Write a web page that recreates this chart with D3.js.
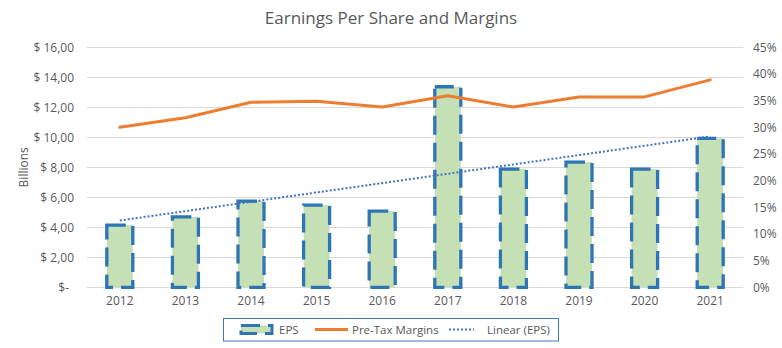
<!DOCTYPE html>
<html><head><meta charset="utf-8">
<script src="https://cdn.jsdelivr.net/npm/d3@7"></script>
<style>body{margin:0;background:#fff}svg{display:block}text{font-family:"Open Sans","Liberation Sans",Arial,sans-serif}</style>
</head><body><svg id="c" width="782" height="348"></svg>
<script>
const years = ["2012","2013","2014","2015","2016","2017","2018","2019","2020","2021"];
const eps = [4.15,4.70,5.75,5.48,5.08,13.37,7.88,8.35,7.88,9.93];
const margins = [30.0,31.8,34.7,34.9,33.8,35.9,33.8,35.7,35.7,38.9];
const leftTicks = [0,2,4,6,8,10,12,14,16];
const rightTicks = [0,5,10,15,20,25,30,35,40,45];
const title = "Earnings Per Share and Margins";

const svg = d3.select("#c");
const L = 87, R = 743, T = 47.3, B = 287.3;
const x = d3.scaleBand().domain(years).range([L,R]).paddingInner(0.6).paddingOuter(0.3);
const xc = d => x(d) + x.bandwidth()/2;
const xb = d3.scaleBand().domain(years).range([L,R]);
const xcen = d => xb(d) + xb.bandwidth()/2;
const yL = d3.scaleLinear().domain([0,16]).range([B,T]);
const yR = d3.scaleLinear().domain([0,45]).range([B,T]);
const txt = "#595959";

svg.append("text").attr("x",391).attr("y",24).attr("text-anchor","middle")
  .attr("font-size",17).attr("fill",txt).text(title);

// gridlines
svg.append("g").selectAll("line").data(leftTicks).join("line")
  .attr("x1",L).attr("x2",R).attr("y1",d=>Math.round(yL(d))+0.5).attr("y2",d=>Math.round(yL(d))+0.5)
  .attr("stroke","#d9d9d9").attr("stroke-width",1);

// left axis
const fmtL = d => d===0 ? "$-" : "$ " + d.toFixed(2).replace(".",",");
const gl = svg.append("g").attr("transform",`translate(${L},0)`)
  .call(d3.axisLeft(yL).tickValues(leftTicks).tickFormat(fmtL).tickSize(0).tickPadding(13));
gl.select(".domain").remove();
gl.selectAll("text").attr("font-size",12).attr("fill",txt).attr("font-family",'"Open Sans",sans-serif')
  .attr("dx",d=>d===0?-5:0);

// right axis
const gr = svg.append("g").attr("transform",`translate(${R},0)`)
  .call(d3.axisRight(yR).tickValues(rightTicks).tickFormat(d=>d+"%").tickSize(0).tickPadding(10));
gr.select(".domain").remove();
gr.selectAll("text").attr("font-size",12).attr("fill",txt).attr("font-family",'"Open Sans",sans-serif');

// x axis
const gx = svg.append("g").attr("transform",`translate(0,${B})`)
  .call(d3.axisBottom(xb).tickSize(0).tickPadding(9));
gx.select(".domain").remove();
gx.selectAll("text").attr("font-size",12).attr("fill",txt).attr("font-family",'"Open Sans",sans-serif');

svg.append("text").attr("transform",`translate(28,${(T+B)/2}) rotate(-90)`)
  .attr("text-anchor","middle").attr("font-size",12).attr("fill",txt).text("Billions");

// bars
const bw = 26;
svg.append("g").selectAll("rect").data(years).join("rect")
  .attr("x",d=>xcen(d)-bw/2).attr("width",bw)
  .attr("y",(d,i)=>yL(eps[i])).attr("height",(d,i)=>B-yL(eps[i]))
  .attr("fill","#c5e0b4").attr("stroke","#2e75b6").attr("stroke-width",3.3)
  .attr("stroke-dasharray","19 8");

// margins line
svg.append("path").datum(margins)
  .attr("d",d3.line().x((d,i)=>xcen(years[i])).y(d=>yR(d)))
  .attr("fill","none").attr("stroke","#ed7d31").attr("stroke-width",3).attr("stroke-linejoin","round").attr("stroke-linecap","round");

// linear trend of EPS
const n = eps.length, xs = d3.range(n);
const mx = d3.mean(xs), my = d3.mean(eps);
const slope = d3.sum(xs,(v,i)=>(v-mx)*(eps[i]-my)) / d3.sum(xs,v=>(v-mx)*(v-mx));
const icpt = my - slope*mx;
svg.append("line")
  .attr("x1",xcen(years[0])).attr("y1",yL(icpt))
  .attr("x2",xcen(years[n-1])).attr("y2",yL(icpt+slope*(n-1)))
  .attr("stroke","#4472c4").attr("stroke-width",2).attr("stroke-dasharray","2 2");

// legend
const lg = svg.append("g");
lg.append("rect").attr("x",223.5).attr("y",318.5).attr("width",335).attr("height",22.5)
  .attr("fill","#fff").attr("stroke","#4472c4").attr("stroke-width",1);
const ly = 329.5;
lg.append("rect").attr("x",241).attr("y",ly-4).attr("width",31).attr("height",8)
  .attr("fill","#c5e0b4").attr("stroke","#2e75b6").attr("stroke-width",3).attr("stroke-dasharray","19 8");
lg.append("text").attr("x",279).attr("y",ly+4).attr("font-size",11.5).attr("fill",txt).text("EPS");
lg.append("line").attr("x1",315).attr("x2",348).attr("y1",ly).attr("y2",ly).attr("stroke","#ed7d31").attr("stroke-width",3);
lg.append("text").attr("x",352).attr("y",ly+4).attr("font-size",11.5).attr("fill",txt).text("Pre-Tax Margins");
lg.append("line").attr("x1",449).attr("x2",474).attr("y1",ly).attr("y2",ly).attr("stroke","#4472c4").attr("stroke-width",2).attr("stroke-dasharray","2 2");
lg.append("text").attr("x",487).attr("y",ly+4).attr("font-size",11.5).attr("fill",txt).text("Linear (EPS)");
</script></body></html>
